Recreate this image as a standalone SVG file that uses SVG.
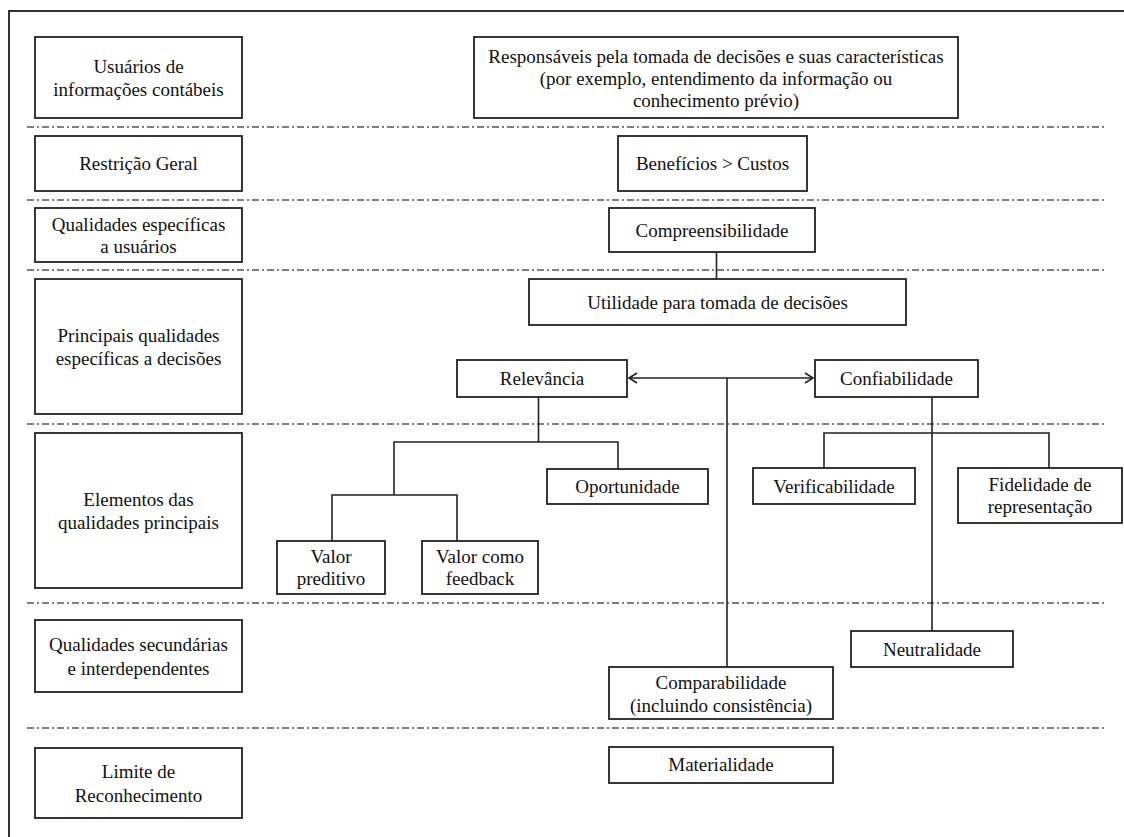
<svg xmlns="http://www.w3.org/2000/svg" width="1124" height="837" viewBox="0 0 1124 837">
<defs>
<style>
.box{fill:#fff;stroke:#222;stroke-width:1.8}
.t{font-family:'Liberation Serif','Tinos','Times New Roman','DejaVu Serif',serif;font-size:19px;fill:#111;text-anchor:middle;dominant-baseline:central}
.sep{stroke:#555;stroke-width:1.6;stroke-dasharray:7 3 2 3;fill:none}
.c{stroke:#222;stroke-width:1.6;fill:none}
</style>
<marker id="arr" viewBox="-1 -6 11 12" refX="8" refY="0" markerWidth="11" markerHeight="12" markerUnits="userSpaceOnUse" orient="auto-start-reverse">
<path d="M0,-5 L8,0 L0,5" fill="none" stroke="#222" stroke-width="1.6"/>
</marker>
</defs>
<rect width="1124" height="837" fill="#fff"/>
<rect x="9" y="11" width="1130" height="840" fill="none" stroke="#333" stroke-width="2"/>
<g id="separators">
<line class="sep" x1="27" y1="127" x2="1104" y2="127"/>
<line class="sep" x1="27" y1="200" x2="1104" y2="200"/>
<line class="sep" x1="27" y1="270" x2="1104" y2="270"/>
<line class="sep" x1="27" y1="424" x2="1104" y2="424"/>
<line class="sep" x1="27" y1="603" x2="1104" y2="603"/>
<line class="sep" x1="27" y1="728" x2="1104" y2="728"/>
</g>
<g id="connectors">
<line class="c" x1="716.5" y1="252" x2="716.5" y2="279"/>
<line class="c" x1="629" y1="378" x2="813" y2="378" marker-start="url(#arr)" marker-end="url(#arr)"/>
<line class="c" x1="727" y1="378" x2="727" y2="667"/>
<polyline class="c" points="538.5,397 538.5,442"/>
<polyline class="c" points="618,469 618,442 394,442 394,495"/>
<polyline class="c" points="332,541 332,495 457,495 457,541"/>
<polyline class="c" points="932,397 932,631"/>
<polyline class="c" points="824,468 824,433 1049,433 1049,468"/>
</g>
<g id="lbl1"><rect class="box" x="35" y="37" width="207" height="81"/><text class="t" x="138.5" y="66">Usuários de</text><text class="t" x="138.5" y="89">informações contábeis</text></g>
<g id="lbl2"><rect class="box" x="35" y="136" width="207" height="55"/><text class="t" x="138.5" y="163.5">Restrição Geral</text></g>
<g id="lbl3"><rect class="box" x="35" y="208" width="207" height="54"/><text class="t" x="138.5" y="224">Qualidades específicas</text><text class="t" x="138.5" y="246">a usuários</text></g>
<g id="lbl4"><rect class="box" x="35" y="279" width="207" height="135"/><text class="t" x="138.5" y="335">Principais qualidades</text><text class="t" x="138.5" y="358">específicas a decisões</text></g>
<g id="lbl5"><rect class="box" x="35" y="433" width="207" height="155"/><text class="t" x="138.5" y="499">Elementos das</text><text class="t" x="138.5" y="522">qualidades principais</text></g>
<g id="lbl6"><rect class="box" x="35" y="620" width="207" height="72"/><text class="t" x="138.5" y="644">Qualidades secundárias</text><text class="t" x="138.5" y="668">e interdependentes</text></g>
<g id="lbl7"><rect class="box" x="35" y="748" width="207" height="70"/><text class="t" x="138.5" y="771">Limite de</text><text class="t" x="138.5" y="795">Reconhecimento</text></g>
<g id="n-responsaveis"><rect class="box" x="474" y="37" width="484" height="81"/><text class="t" x="716" y="56">Responsáveis pela tomada de decisões e suas características</text><text class="t" x="716" y="78">(por exemplo, entendimento da informação ou</text><text class="t" x="716" y="100">conhecimento prévio)</text></g>
<g id="n-beneficios"><rect class="box" x="618" y="136" width="189" height="55"/><text class="t" x="712.5" y="163.5">Benefícios &gt; Custos</text></g>
<g id="n-compreensibilidade"><rect class="box" x="609" y="208" width="206" height="44"/><text class="t" x="712" y="230">Compreensibilidade</text></g>
<g id="n-utilidade"><rect class="box" x="529" y="279" width="377" height="46"/><text class="t" x="717.5" y="302">Utilidade para tomada de decisões</text></g>
<g id="n-relevancia"><rect class="box" x="457" y="360" width="170" height="37"/><text class="t" x="542" y="378.5">Relevância</text></g>
<g id="n-confiabilidade"><rect class="box" x="815" y="360" width="163" height="37"/><text class="t" x="896.5" y="378.5">Confiabilidade</text></g>
<g id="n-oportunidade"><rect class="box" x="547" y="469" width="161" height="35"/><text class="t" x="627.5" y="486.5">Oportunidade</text></g>
<g id="n-verificabilidade"><rect class="box" x="753" y="468" width="162" height="36"/><text class="t" x="834" y="486">Verificabilidade</text></g>
<g id="n-fidelidade"><rect class="box" x="958" y="468" width="164" height="55"/><text class="t" x="1040" y="484">Fidelidade de</text><text class="t" x="1040" y="506">representação</text></g>
<g id="n-valor-preditivo"><rect class="box" x="277" y="541" width="108" height="53"/><text class="t" x="331" y="556">Valor</text><text class="t" x="331" y="578">preditivo</text></g>
<g id="n-valor-feedback"><rect class="box" x="422" y="541" width="116" height="53"/><text class="t" x="480" y="556">Valor como</text><text class="t" x="480" y="578">feedback</text></g>
<g id="n-neutralidade"><rect class="box" x="851" y="631" width="162" height="36"/><text class="t" x="932" y="649">Neutralidade</text></g>
<g id="n-comparabilidade"><rect class="box" x="609" y="667" width="224" height="52"/><text class="t" x="721" y="682">Comparabilidade</text><text class="t" x="721" y="705">(incluindo consistência)</text></g>
<g id="n-materialidade"><rect class="box" x="609" y="747" width="224" height="36"/><text class="t" x="721" y="764">Materialidade</text></g>
</svg>
